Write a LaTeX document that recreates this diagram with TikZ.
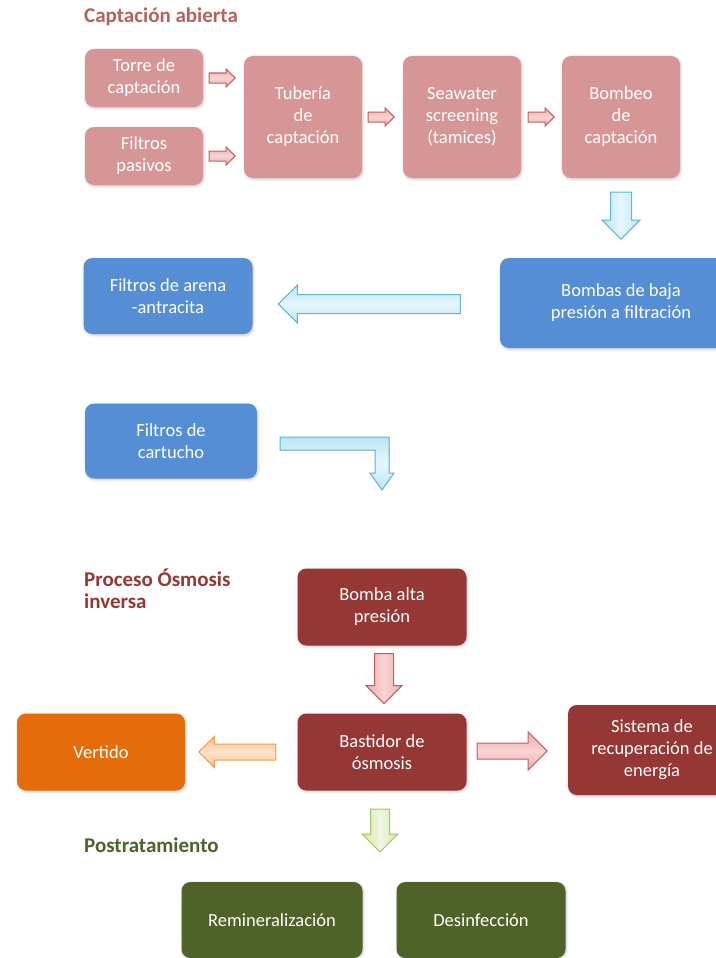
\documentclass[tikz,border=0pt]{standalone}
\usepackage{fontspec}
\setmainfont{Carlito}
\usetikzlibrary{shapes.arrows, positioning, calc, shadows.blur}
\definecolor{rosebox}{HTML}{D69695}
\definecolor{roseline}{HTML}{C0605C}
\definecolor{roselight}{HTML}{F8D4D3}
\definecolor{rosemid}{HTML}{EBAEAD}
\definecolor{roseTitle}{HTML}{B8605C}
\definecolor{skybox}{HTML}{558ED5}
\definecolor{skyline}{HTML}{62B4D2}
\definecolor{skylight}{HTML}{E6F7FD}
\definecolor{skymid}{HTML}{B9E5F5}
\definecolor{wineBox}{HTML}{953735}
\definecolor{amberbox}{HTML}{E46C0A}
\definecolor{amberline}{HTML}{F59B4F}
\definecolor{amberlight}{HTML}{FDE3CC}
\definecolor{ambermid}{HTML}{FAC090}
\definecolor{olivebox}{HTML}{4F6228}
\definecolor{oliveline}{HTML}{A5C266}
\definecolor{olivelight}{HTML}{F0F7E0}
\definecolor{olivemid}{HTML}{D2E6A6}

\begin{document}
\begin{tikzpicture}[x=1pt, y=-1pt,
  module/.style={rectangle, rounded corners=9pt, align=center, text=white, inner sep=2pt,
    font=\fontsize{18.5}{22}\selectfont,
    blur shadow={shadow xshift=0.8pt, shadow yshift=-1.2pt, shadow blur radius=2.5pt, shadow opacity=22}},
  rosemod/.style={module, fill=rosebox, minimum width=118pt, minimum height=58pt},
  skymod/.style={module, fill=skybox, minimum width=169pt, minimum height=76pt},
  winemod/.style={module, fill=wineBox, minimum width=169pt, minimum height=77pt},
  ambermod/.style={module, fill=amberbox, minimum width=168pt, minimum height=77pt},
  olivemod/.style={module, fill=olivebox, minimum width=169pt, minimum height=76pt},
  heading/.style={anchor=west, align=left, inner sep=0pt, font=\fontsize{21}{22}\selectfont\bfseries},
  blockarrow/.style={single arrow, line width=1pt, anchor=tip},
  hrose/.style={blockarrow, draw=roseline, top color=rosemid, bottom color=rosemid, middle color=roselight},
  vrose/.style={blockarrow, draw=roseline, left color=rosemid, right color=rosemid, middle color=roselight, shape border rotate=270},
  hsky/.style={blockarrow, draw=skyline, top color=skymid, bottom color=skymid, middle color=skylight},
  vsky/.style={blockarrow, draw=skyline, left color=skymid, right color=skymid, middle color=skylight, shape border rotate=270},
  hamber/.style={blockarrow, draw=amberline, top color=ambermid, bottom color=ambermid, middle color=amberlight},
  volive/.style={blockarrow, draw=oliveline, left color=olivemid, right color=olivemid, middle color=olivelight, shape border rotate=270}
]
  \useasboundingbox (0,0) rectangle (715,958);

  % Captacion abierta
  \node[heading, text=roseTitle] (captitle) at (84,17) {Captación abierta};
  \node[rosemod] (torre) at (144,78) {Torre de\\captación};
  \node[rosemod] (pasivos) at (144,156) {Filtros\\pasivos};
  \node[rosemod, minimum height=122pt] (tuberia) at (303,117) {Tubería\\de\\captación};
  \node[rosemod, minimum height=122pt] (tamices) at (462,117) {Seawater\\screening\\(tamices)};
  \node[rosemod, minimum height=122pt] (bombeo) at (621,117) {Bombeo\\de\\captación};

  % Pretratamiento
  \node[skymod, minimum width=242pt, minimum height=90pt] (baja) at (621,303) {Bombas de baja\\presión a filtración};
  \node[skymod] (arena) at (168,296) {Filtros de arena\\-antracita};
  \node[skymod, minimum width=172pt, minimum height=75pt] (cartucho) at (171,441) {Filtros de\\cartucho};

  % Proceso osmosis inversa
  \node[heading, text=wineBox] (rotitle) at (84,589) {Proceso Ósmosis\\inversa};
  \node[winemod] (alta) at (382,607) {Bomba alta\\presión};
  \node[winemod] (bastidor) at (382,752) {Bastidor de\\ósmosis};
  \node[ambermod] (vertido) at (101,752) {Vertido};
  \node[winemod, minimum width=168pt, minimum height=90pt] (energia) at (652,750) {Sistema de\\recuperación de\\energía};

  % Postratamiento
  \node[heading, text=olivebox] (posttitle) at (84,845) {Postratamiento};
  \node[olivemod, minimum width=181pt] (remin) at (272,920) {Remineralización};
  \node[olivemod] (desinf) at (481,920) {Desinfección};

  % Arrows
  \node[hrose, inner sep=4.5pt, minimum height=26pt, single arrow head extend=4pt] (a1) at ($(tuberia.west |- torre.east)+(-8,0)$) {};
  \node[hrose, inner sep=4.5pt, minimum height=26pt, single arrow head extend=4pt] (a2) at ($(tuberia.west |- pasivos.east)+(-8,0)$) {};
  \node[hrose, inner sep=4.5pt, minimum height=26pt, single arrow head extend=4pt] (a3) at ($(tamices.west)+(-8,0)$) {};
  \node[hrose, inner sep=4.5pt, minimum height=26pt, single arrow head extend=4pt] (a4) at ($(bombeo.west)+(-7,0)$) {};
  \node[vsky, inner sep=10pt, minimum height=47pt, single arrow head extend=8.5pt] (a5) at ($(baja.north)+(0,-18)$) {};
  \node[hsky, inner sep=9pt, minimum height=182pt, single arrow head extend=9.5pt, shape border rotate=180] (a6) at ($(arena.east |- baja.west)+(25,1)$) {};
  \coordinate (elbowin) at (cartucho.east);
  \filldraw[draw=skyline, line width=1pt, top color=skymid, bottom color=skymid, middle color=skylight]
    ($(elbowin)+(23,-4)$) -- (389,437) -- (389,473) -- (394,473) -- (382,490)
    -- (370,473) -- (375,473) -- (375,450) -- ($(elbowin)+(23,9)$) -- cycle;
  \node[vrose, inner sep=9pt, minimum height=50pt, single arrow head extend=8.5pt] (a7) at ($(bastidor.north)+(2,-9)$) {};
  \node[hamber, inner sep=7.5pt, minimum height=77pt, single arrow head extend=7.5pt, shape border rotate=180] (a8) at ($(vertido.east)+(13,0)$) {};
  \node[hrose, inner sep=7.5pt, minimum height=70pt, single arrow head extend=11pt] (a9) at ($(energia.west |- bastidor.east)+(-20,-1)$) {};
  \node[volive, inner sep=9pt, minimum height=43pt, single arrow head extend=8.5pt] (a10) at ($(bastidor.south)+(-2,62)$) {};
\end{tikzpicture}
\end{document}
